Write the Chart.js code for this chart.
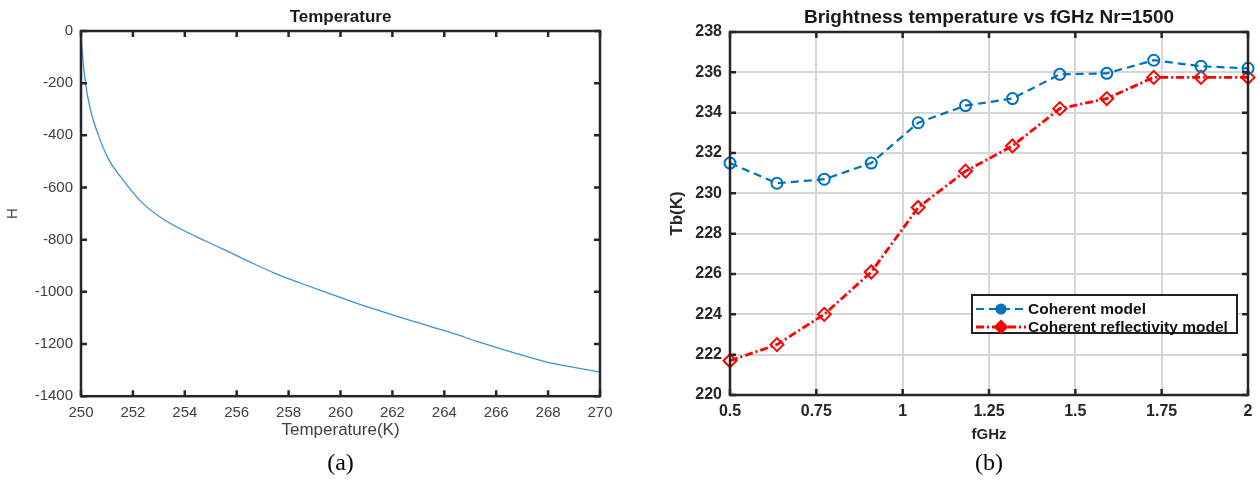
<!DOCTYPE html>
<html>
<head>
<meta charset="utf-8">
<script src="https://cdn.jsdelivr.net/npm/chart.js@4.4.0/dist/chart.umd.min.js"></script>
<style>
  html, body { margin: 0; padding: 0; background: #fff; overflow: hidden; }
  #wrap { position: relative; width: 1260px; height: 483px; }
  canvas { position: absolute; top: 0; }
</style>
</head>
<body>
<div id="wrap">
  <canvas id="tempChart" width="630" height="483" style="left:0"></canvas>
  <canvas id="tbChart" width="630" height="483" style="left:630px"></canvas>
</div>
<script>
// (a) H against temperature
const tempK = [250, 250.04, 250.17, 250.36, 250.68, 251.06, 251.7, 252.35, 253.1, 253.9,
  254.76, 255.6, 256.5, 257.5, 258.5, 259.5, 260.5, 261.5, 262.5, 263.5,
  264.5, 265.35, 266.63, 267.9, 268.74, 269.8, 270];
const hVals = [0, -70, -198, -300, -402, -491, -581, -657, -717, -762,
  -803, -842, -885, -930, -968, -1004, -1039, -1072, -1104, -1134,
  -1164, -1193, -1232, -1268, -1285, -1304, -1307];

// (b) brightness temperature vs frequency
const fGHz = [0.5, 0.636, 0.773, 0.909, 1.045, 1.182, 1.318, 1.455, 1.591, 1.727, 1.864, 2.0];
const tbCoherent = [231.5, 230.5, 230.7, 231.5, 233.5, 234.35, 234.7, 235.9, 235.95, 236.6, 236.3, 236.2];
const tbReflectivity = [221.7, 222.5, 224.0, 226.1, 229.3, 231.1, 232.35, 234.2, 234.7, 235.75, 235.75, 235.75];

const seriesNames = ["Coherent model", "Coherent reflectivity model"];

const toXY = (xs, ys) => xs.map((x, i) => ({ x, y: ys[i] }));
const plain = (v) => String(v);

// matlab style box with inward ticks on all four sides
const boxTicks = {
  id: "boxTicks",
  afterDatasetsDraw(chart, args, opts) {
    const { ctx, chartArea: a, scales } = chart;
    const t = 6;
    ctx.save();
    ctx.strokeStyle = opts.color || "#262626";
    ctx.lineWidth = opts.width || 2;
    ctx.beginPath();
    scales.x.ticks.forEach((tk) => {
      const px = scales.x.getPixelForValue(tk.value);
      ctx.moveTo(px, a.bottom); ctx.lineTo(px, a.bottom - t);
      ctx.moveTo(px, a.top); ctx.lineTo(px, a.top + t);
    });
    scales.y.ticks.forEach((tk) => {
      const py = scales.y.getPixelForValue(tk.value);
      ctx.moveTo(a.left, py); ctx.lineTo(a.left + t, py);
      ctx.moveTo(a.right, py); ctx.lineTo(a.right - t, py);
    });
    ctx.stroke();
    ctx.strokeRect(a.left, a.top, a.right - a.left, a.bottom - a.top);
    ctx.restore();
  }
};

// boxed legend sitting inside the lower right of the plot
const innerLegend = {
  id: "innerLegend",
  afterDraw(chart) {
    const { ctx, chartArea: a } = chart;
    const w = 265, h = 38;
    const x0 = a.right - 11 - w, y0 = a.bottom - 62 - h;
    ctx.save();
    ctx.fillStyle = "#fff";
    ctx.fillRect(x0, y0, w, h);
    ctx.strokeStyle = "#222";
    ctx.lineWidth = 2;
    ctx.strokeRect(x0, y0, w, h);
    chart.data.datasets.forEach((ds, i) => {
      const cy = y0 + 14 + i * 18;
      ctx.strokeStyle = ds.borderColor;
      ctx.fillStyle = ds.borderColor;
      ctx.lineWidth = ds.borderWidth;
      ctx.setLineDash(ds.borderDash);
      ctx.beginPath();
      ctx.moveTo(x0 + 4, cy); ctx.lineTo(x0 + 54, cy);
      ctx.stroke();
      ctx.setLineDash([]);
      Chart.helpers.drawPoint(ctx, {
        pointStyle: ds.pointStyle, radius: ds.pointRadius - 1, borderWidth: 2
      }, x0 + 29, cy);
      ctx.fillStyle = "#111";
      ctx.font = "bold 15.5px 'Liberation Sans', Arial, sans-serif";
      ctx.textBaseline = "middle";
      ctx.fillText(ds.label, x0 + 56, cy + 1);
    });
    ctx.restore();
  }
};

const sans = "'Liberation Sans', Arial, sans-serif";

new Chart(document.getElementById("tempChart"), {
  type: "line",
  data: {
    datasets: [{
      data: toXY(tempK, hVals),
      borderColor: "#3d91d8",
      borderWidth: 1.3,
      pointRadius: 0,
      cubicInterpolationMode: "monotone"
    }]
  },
  options: {
    responsive: false,
    animation: false,
    layout: { padding: { left: 0, right: 30, top: 0, bottom: 0 } },
    plugins: {
      legend: { display: false },
      tooltip: { enabled: false },
      boxTicks: { color: "#262626", width: 2.5 },
      title: {
        display: true, text: "Temperature", fullSize: false, color: "#1a1a1a",
        font: { family: sans, size: 17, weight: "bold" },
        padding: { top: 7, bottom: 3.6 }
      },
      subtitle: {
        display: true, text: "(a)", position: "bottom", fullSize: false, color: "#000",
        font: { family: "'Liberation Serif', 'Times New Roman', serif", size: 24, weight: "normal" },
        padding: { top: 9, bottom: 5 }
      }
    },
    scales: {
      x: {
        type: "linear", min: 250, max: 270,
        grid: { display: false, drawTicks: false },
        border: { display: false },
        ticks: { stepSize: 2, padding: 8, color: "#404040", font: { family: sans, size: 15 }, callback: plain },
        title: { display: true, text: "Temperature(K)", color: "#404040", font: { family: sans, size: 17 }, padding: { top: 0, bottom: 0 } },
        afterFit: (s) => { s.height = 44; }
      },
      y: {
        min: -1400, max: 0,
        grid: { display: false, drawTicks: false },
        border: { display: false },
        ticks: { stepSize: 200, padding: 8, color: "#404040", font: { family: sans, size: 15 }, callback: plain },
        title: { display: true, text: "H", color: "#404040", font: { family: sans, size: 15 }, padding: { top: 4, bottom: 0 } },
        afterFit: (s) => { s.width = 81; }
      }
    }
  },
  plugins: [boxTicks]
});

new Chart(document.getElementById("tbChart"), {
  type: "line",
  data: {
    datasets: [{
      label: seriesNames[0],
      data: toXY(fGHz, tbCoherent),
      borderColor: "#0072bd",
      borderWidth: 2.2,
      borderDash: [8, 5],
      pointStyle: "circle",
      pointRadius: 5.5,
      pointBorderWidth: 2,
      pointBorderColor: "#0072bd",
      pointBackgroundColor: "rgba(255,255,255,0)",
      clip: false
    }, {
      label: seriesNames[1],
      data: toXY(fGHz, tbReflectivity),
      borderColor: "#ff0000",
      borderWidth: 2.8,
      borderDash: [8, 3, 2, 3],
      pointStyle: "rectRot",
      pointRadius: 6.5,
      pointBorderWidth: 2,
      pointBorderColor: "#ff0000",
      pointBackgroundColor: "rgba(255,255,255,0)",
      clip: false
    }]
  },
  options: {
    responsive: false,
    animation: false,
    layout: { padding: { left: 0, right: 12, top: 0, bottom: 0 } },
    plugins: {
      legend: { display: false },
      tooltip: { enabled: false },
      boxTicks: { color: "#262626", width: 2.5 },
      title: {
        display: true, text: "Brightness temperature vs fGHz Nr=1500", fullSize: false, color: "#1a1a1a",
        font: { family: sans, size: 19, weight: "bold" },
        padding: { top: 6, bottom: 3.2 }
      },
      subtitle: {
        display: true, text: "(b)", position: "bottom", fullSize: false, color: "#000",
        font: { family: "'Liberation Serif', 'Times New Roman', serif", size: 24, weight: "normal" },
        padding: { top: 4, bottom: 5.2 }
      }
    },
    scales: {
      x: {
        type: "linear", min: 0.5, max: 2,
        grid: { color: "#d6d6d6", lineWidth: 2, drawTicks: false },
        border: { display: false },
        ticks: { stepSize: 0.25, padding: 7, color: "#262626", font: { family: sans, size: 16, weight: "bold" }, callback: plain },
        title: { display: true, text: "fGHz", color: "#262626", font: { family: sans, size: 15, weight: "bold" }, padding: { top: 0, bottom: 1 } },
        afterFit: (s) => { s.height = 50; }
      },
      y: {
        min: 220, max: 238,
        grid: { color: "#d6d6d6", lineWidth: 2, drawTicks: false },
        border: { display: false },
        ticks: { stepSize: 2, padding: 8, color: "#262626", font: { family: sans, size: 16, weight: "bold" }, callback: plain },
        title: { display: true, text: "Tb(K)", color: "#262626", font: { family: sans, size: 17, weight: "bold" }, padding: { top: 37, bottom: 0 } },
        afterFit: (s) => { s.width = 100; }
      }
    }
  },
  plugins: [boxTicks, innerLegend]
});
</script>
</body>
</html>
